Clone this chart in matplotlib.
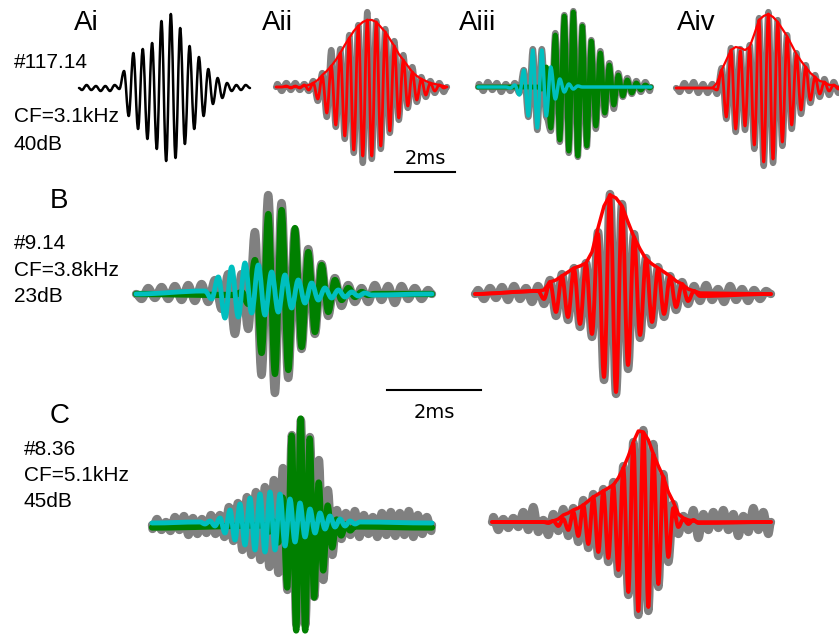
import matplotlib
matplotlib.use("Agg")
import matplotlib.pyplot as plt
from matplotlib.path import Path
from matplotlib.patches import PathPatch

W, H = 839, 634

GREY = "#808080"
RED = "#ff0000"
GREEN = "#008000"
CYAN = "#00bfbf"

# Successive peak/trough amplitudes (a.u.) of each trace; extrema are spaced
# by half a cycle of the tone, starting at t_first (ms from trace onset).

# Ai  #117.14, CF=3.1kHz, 40dB
ai_t0, ai_half = 0.097, 0.156
ai_black = [-2, 3, -2, 2, -3, 2, -3, 3, -1, 17, -28, 35, -41, 39, -51, 45, -61, 67, -73, 74,
            -70, 60, -56, 42, -41, 31, -28, 19, -16, 10, -10, 5, -3, 3, -2, 3]

# Aii  recorded vs. model fit, with envelope
aii_t0, aii_half = 0.043, 0.15
aii_grey = [3, -4, 4, -3, 4, -3, 3, -4, 6, -14, 14, -30, 37, -40, 38, -52, 52, -66, 62, -76,
            75, -72, 66, -62, 58, -46, 46, -33, 32, -21, 20, -15, 10, -10, 6, -6, 4, -5]
aii_red = [0, 0, 1, -1, 1, -1, 2, -3, 4, -12, 11, -26, 21, -38, 34, -49, 49, -63, 61, -69,
           67, -69, 65, -59, 55, -44, 41, -31, 27, -19, 15, -13, 8, -8, 4, -4, 2, -1]
aii_env = [0, 0, 0, 0, 0, 0, 1, 2, 4, 7, 12, 16, 21, 27, 34, 42, 49, 56, 61, 65,
           67, 67, 65, 60, 55, 48, 41, 33, 27, 21, 15, 11, 8, 6, 4, 3, 2, 1]

# Aiii  two components
aiii_half = 0.15
aiii_grey_t0 = 0.027
aiii_grey = [3, -4, 5, -3, 4, -5, 3, -4, 4, -6, 17, -30, 38, -43, 38, -30, -44, 54, -55, 72,
             -66, 76, -70, 62, -60, 47, -42, 36, -28, 24, -22, 14, -10, 9, -7, 6, -5, 5, -4]
aiii_green_t0 = 1.977
aiii_green = [0, -2, 20, -41, 52, -53, 71, -64, 75, -69, 61, -59, 46, -39, 34, -26, 22, -18,
              12, -9, 7, -6, 4, -3, 2, -1]
aiii_cyan_t0 = 0.927
aiii_cyan = [0, -1, 2, -8, 17, -29, 37, -41, 37, -29, 20, -12, 8, -5, 3, -2, 1, 0]

# Aiv
aiv_half = 0.1556
aiv_grey_t0 = 0.123
aiv_grey = [-4, 5, -3, 6, -5, 4, -5, 4, -6, 20, -31, 40, -44, 39, -42, 43, -61, 70, -78,
            76, -75, 68, -58, 53, -41, 35, -26, 23, -15, 13, -9, 9, -7, 6, -5]
aiv_red_t0 = 1.211
aiv_red = [0, -2, 18, -29, 38, -41, 37, -38, 41, -57, 68, -74, 74, -71, 66, -54, 51, -37,
           33, -22, 21, -12, 11, -6, 6, -3, 3, -1]
aiv_env = [0, 5, 18, 28, 38, 41, 40, 38, 41, 54, 68, 72, 74, 71, 66, 59, 52, 43,
           34, 27, 21, 15, 11, 7, 6, 3, 3, 1]

# B  #9.14, CF=3.8kHz, 23dB
b_half = 0.1418
b_grey_t0 = 0.119
b_grey = [-5, 6, -4, 7, -5, 8, -6, 9, -7, 10, -8, 14, -15, 20, -40, 20, -35, 62, -81,
          99, -99, 91, -84, 64, -55, 45, -40, 30, -22, 16, -12, 9, -8, 6, -8, 9, -6, 8, -9,
          8, -5, 6, -5, 4]
b_green_t0 = 2.106
b_green = [-1, 2, -10, 34, -59, 80, -80, 84, -76, 66, -53, 42, -38, 29, -18, 14, -6, 6,
           -3, 2, -1, 0]
b_cyan_t0 = 1.468
b_cyan = [3, -5, 17, -24, 27, -23, 31, -19, 29, -21, 22, -18, 19, -14, 14, -9, 11, -6,
          6, -4, 4, -3, 2, -2, 1, -1]

br_half = 0.1277
br_grey_t0 = 0.064
br_grey = [4, -5, 6, -4, 7, -6, 8, -5, 6, -8, 8, -10, 14, -22, 20, -26, 26, -33, 31, -43,
           62, -86, 100, -100, 90, -75, 60, -44, 36, -31, 27, -23, 18, -16, 12, -10, 8, -7,
           9, -6, 5, -8, 8, -6, 5, -7, 4, -5, 3]
br_red_t0 = 1.340
br_red = [3, -5, 12, -18, 18, -23, 25, -30, 30, -40, 60, -83, 99, -98, 87, -71, 57, -41,
          35, -28, 25, -20, 17, -13, 10, -7, 3, -2]
br_env = [3, 4, 12, 14, 18, 22, 26, 28, 31, 42, 66, 88, 99, 96, 88, 72, 57, 45,
          35, 30, 26, 22, 18, 13, 10, 5, 3, 1]

# C  #8.36, CF=5.1kHz, 45dB
c_grey_t0, c_half = 0.01, 0.0957
c_grey = [-4, 6, -5, 3, -6, 8, -5, 9, -10, 7, -9, 6, -8, 10, -9,
          10, -12, 18, -16, 22, -25, 28, -30, 33, -35, 38, -42, 45, -48, 57, -65, 90, -100,
          105, -100, 88, -72, 65, -55, 35, -30, 15, -14, 12, -10, 14, -12, 10, -9, 8, -12,
          12, -10, 13, -11, 12, -10, 14, -12, 10, -9, 8, -6]
c_green_t0 = 2.398
c_green = [2, -4, 6, -15, 30, -60, 92, -103, 109, -103, 89, -70, 45, -43, 22, -20, 8, -8,
           3, -3, 1]
c_cyan_t0, c_cyan_half = 1.021, 0.1064
c_cyan = [1, -1, 2, -3, 5, -10, 13, -17, 19, -22, 25, -27, 29, -29, 31, -27, 29, -23, 24,
          -19, 20, -14, 14, -10, 10, -6, 7, -4, 4, -3, 2, -1, 1]

cr_half = 0.1064
cr_grey_t0 = 0.028
cr_grey = [5, -8, 3, -6, 4, -5, 10, -8, 15, -10, 2, -13, 8, -9, 13, -14, 14, -20, 22, -26,
           28, -34, 33, -40, 40, -52, 56, -73, 80, -93, 92, -89, 78, -65, 48, -40, 18, -12,
           6, -8, 12, -16, 8, -8, 10, -6, 12, -8, 8, -14, 6, -10, 14, -8, 10, -12]
cr_red_t0 = 1.092
cr_red = [0, -1, 1, -4, 3, -8, 10, -14, 17, -22, 25, -30, 31, -36, 37, -48, 54, -70, 79,
          -89, 89, -85, 68, -62, 45, -35, 14, -5, 3, -2, 2, -1]
cr_env = [0, 0, 1, 3, 7, 9, 12, 14, 17, 21, 25, 28, 31, 34, 37, 44, 54, 66, 80, 91,
          90, 82, 68, 56, 45, 30, 20, 8, 4, 2, 1, 0]


fig = plt.figure(figsize=(W / 100, H / 100), dpi=100)


def panel(x0, x1, base, px_per_ms, hgt=115):
    # amplitude units are one pixel tall, time in ms
    ax = fig.add_axes([x0 / W, (H - base - hgt) / H, (x1 - x0) / W, 2 * hgt / H])
    ax.set_xlim(0, (x1 - x0) / px_per_ms)
    ax.set_ylim(-hgt, hgt)
    ax.axis("off")
    return ax


def wave(ax, t_first, half, amps, color, lw, base=0.0, z=2):
    t_end = ax.get_xlim()[1]
    ts = [0.0] + [t_first + i * half for i in range(len(amps))] + [t_end]
    ys = [base] + [base + a for a in amps] + [base]
    verts = [(ts[0], ys[0])]
    codes = [Path.MOVETO]
    for i in range(1, len(ts)):
        d = 0.36 * (ts[i] - ts[i - 1])
        verts += [(ts[i - 1] + d, ys[i - 1]), (ts[i] - d, ys[i]), (ts[i], ys[i])]
        codes += [Path.CURVE4] * 3
    ax.add_patch(PathPatch(Path(verts, codes), fill=False, ec=color, lw=lw,
                           capstyle="round", joinstyle="round", zorder=z, clip_on=False))


def envelope(ax, t_first, half, env, color, lw):
    t_end = ax.get_xlim()[1]
    ts = [0.0] + [t_first + i * half for i in range(len(env))] + [t_end]
    ys = [0.0] + list(env) + [0.0]
    ax.plot(ts, ys, color=color, lw=lw, zorder=5, clip_on=False,
            solid_capstyle="round", solid_joinstyle="round")


# row A
ax = panel(79, 250, 88, 30)
wave(ax, ai_t0, ai_half, ai_black, "black", 1.8)

ax_aii = panel(276, 447, 87, 30)
wave(ax_aii, aii_t0, aii_half, aii_grey, GREY, 4.5, z=1)
wave(ax_aii, aii_t0, aii_half, aii_red, RED, 2.0, z=3)
envelope(ax_aii, aii_t0, aii_half, aii_env, RED, 1.6)

ax = panel(478, 651, 87, 30)
wave(ax, aiii_grey_t0, aiii_half, aiii_grey, GREY, 4.5, z=1)
wave(ax, aiii_green_t0, aiii_half, aiii_green, GREEN, 3.5, z=2)
wave(ax, aiii_cyan_t0, aiii_half, aiii_cyan, CYAN, 2.5, z=4)

ax = panel(676, 839, 88, 30)
wave(ax, aiv_grey_t0, aiv_half, aiv_grey, GREY, 4.5, z=1)
wave(ax, aiv_red_t0, aiv_half, aiv_red, RED, 2.0, z=3)
envelope(ax, aiv_red_t0, aiv_half, aiv_env, RED, 1.6)

# 2 ms scale bar, row A
ax_aii.plot([3.967, 5.967], [-84.5, -84.5], color="black", lw=1.5, clip_on=False)
ax_aii.text(4.967, -77, "2ms", ha="center", va="baseline", fontsize=14,
            family="DejaVu Sans")

# row B
ax_b = panel(136, 432, 294, 47)
wave(ax_b, b_grey_t0, b_half, b_grey, GREY, 6, z=1)
wave(ax_b, b_green_t0, b_half, b_green, GREEN, 4.5, z=2)
wave(ax_b, b_cyan_t0, b_half, b_cyan, CYAN, 3.5, z=4)

ax = panel(475, 771, 294, 47)
wave(ax, br_grey_t0, br_half, br_grey, GREY, 6, z=1)
wave(ax, br_red_t0, br_half, br_red, RED, 2.8, z=3)
envelope(ax, br_red_t0, br_half, br_env, RED, 2.5)

ax_b.plot([5.34, 7.34], [-96, -96], color="black", lw=1.5, clip_on=False)
ax_b.text(6.34, -124, "2ms", ha="center", va="baseline", fontsize=14,
          family="DejaVu Sans")

# row C
ax = panel(152, 432, 523, 47)
wave(ax, c_grey_t0, c_half, c_grey, GREY, 6, base=-2, z=1)
wave(ax, c_green_t0, c_half, c_green, GREEN, 4.5, base=-4.5, z=2)
wave(ax, c_cyan_t0, c_cyan_half, c_cyan, CYAN, 3.5, z=4)

ax = panel(492, 771, 522, 47)
wave(ax, cr_grey_t0, cr_half, cr_grey, GREY, 6, z=1)
wave(ax, cr_red_t0, cr_half, cr_red, RED, 2.8, z=3)
envelope(ax, cr_red_t0, cr_half, cr_env, RED, 2.5)


def label(x, y, s, size=15):
    fig.text(x / W, 1 - y / H, s, fontsize=size, family="Liberation Sans",
             va="baseline", ha="left")


for x, s in [(74, "Ai"), (262, "Aii"), (459, "Aiii"), (677, "Aiv")]:
    label(x, 30, s, 20)
label(50, 208, "B", 20)
label(50, 423, "C", 20)

for y, s in [(68, "#117.14"), (122, "CF=3.1kHz"), (150, "40dB")]:
    label(14, y, s)
for y, s in [(249, "#9.14"), (276, "CF=3.8kHz"), (302, "23dB")]:
    label(14, y, s)
for y, s in [(455, "#8.36"), (481, "CF=5.1kHz"), (507, "45dB")]:
    label(24, y, s)

fig.savefig("out.png", dpi=100)
